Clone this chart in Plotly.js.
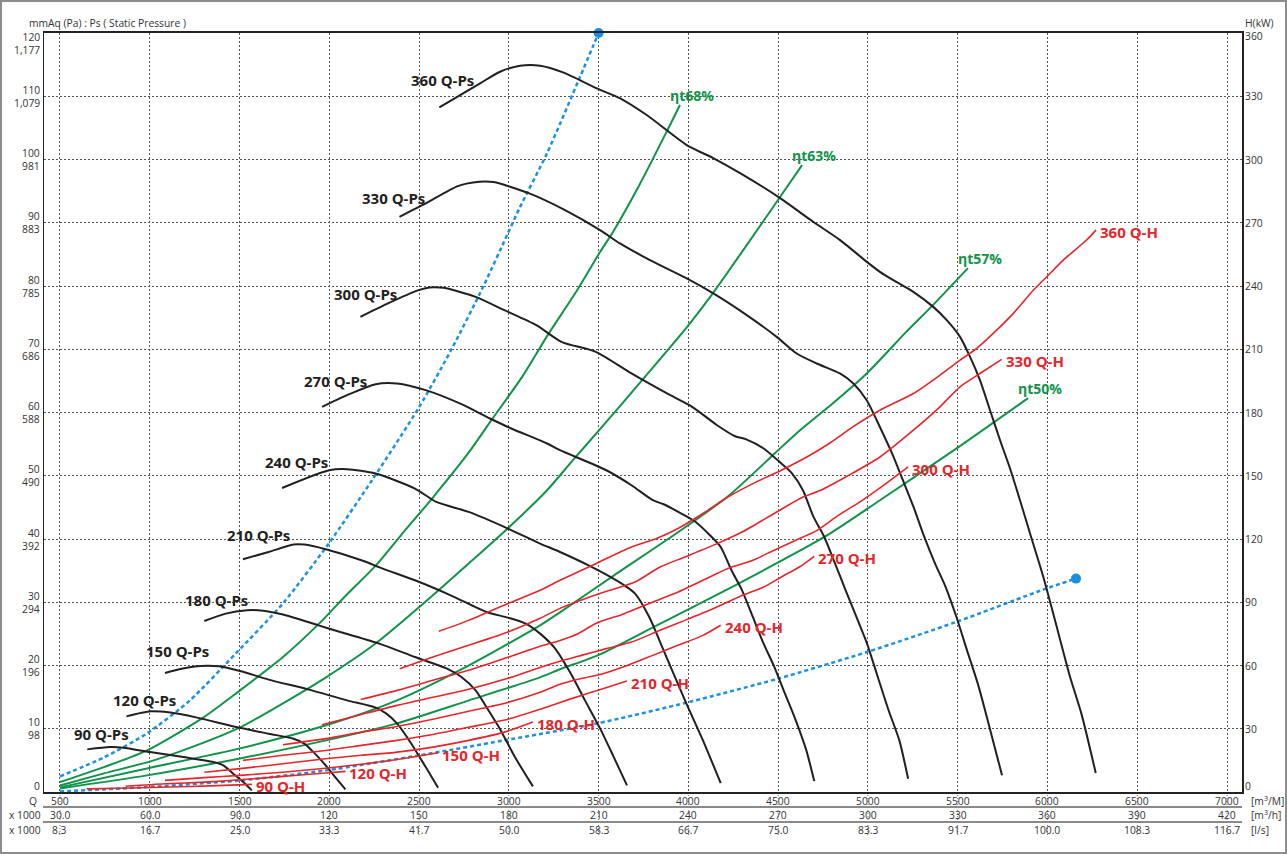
<!DOCTYPE html>
<html>
<head>
<meta charset="utf-8">
<script src="https://cdn.plot.ly/plotly-3.0.1.min.js"></script>
<style>
  html, body { margin: 0; padding: 0; background: #ffffff; }
  #chart { width: 1287px; height: 854px; }
</style>
</head>
<body>
<div id="chart"></div>
<script>
// ---------------- Axis ticks / labels ----------------
const qTicks = [500, 1000, 1500, 2000, 2500, 3000, 3500, 4000, 4500, 5000, 5500, 6000, 6500, 7000];
const m3hLabels = ['30.0', '60.0', '90.0', '120', '150', '180', '210', '240', '270', '300', '330', '360', '390', '420'];
const lsLabels = ['8.3', '16.7', '25.0', '33.3', '41.7', '50.0', '58.3', '66.7', '75.0', '83.3', '91.7', '100.0', '108.3', '116.7'];
const psTicks = [0, 10, 20, 30, 40, 50, 60, 70, 80, 90, 100, 110, 120];
const paLabels = ['0', '98', '196', '294', '392', '490', '588', '686', '785', '883', '981', '1,079', '1,177'];
const hTicks = [0, 30, 60, 90, 120, 150, 180, 210, 240, 270, 300, 330, 360];

// ---------------- Q-Ps curves (Q m3/min, Ps mmAq) ----------------
const ps90Q = [652, 778, 853, 1001, 1187, 1354, 1410, 1465, 1521, 1568];
const ps90P = [6.74, 7.10, 7.01, 6.31, 5.52, 4.73, 4.21, 2.89, 1.57, 0.25];
const ps120Q = [870, 1005, 1105, 1264, 1482, 1662, 1801, 1861, 1920, 1980, 2040, 2090];
const ps120P = [11.96, 12.75, 12.60, 11.76, 10.27, 9.22, 8.43, 7.64, 6.06, 4.21, 2.10, 0.41];
const ps150Q = [1085, 1185, 1284, 1383, 1503, 1662, 1881, 2099, 2258, 2318, 2378, 2457, 2537, 2606];
const ps150P = [18.81, 19.51, 19.92, 19.87, 19.13, 17.77, 16.23, 14.49, 13.34, 12.39, 10.81, 7.64, 3.94, 0.68];
const ps180Q = [1304, 1423, 1542, 1602, 1742, 1940, 2080, 2278, 2477, 2656, 2736, 2815, 2875, 2955, 3034, 3134];
const ps180P = [27.03, 28.20, 28.73, 28.73, 28.05, 26.35, 25.14, 23.46, 21.34, 19.51, 18.18, 16.07, 13.43, 9.74, 5.52, 0.89];
const ps210Q = [1519, 1662, 1801, 1861, 1980, 2179, 2298, 2477, 2676, 2875, 2995, 3094, 3174, 3257, 3341, 3424, 3508, 3580, 3658];
const ps210P = [36.79, 37.95, 39.12, 39.12, 38.38, 36.64, 35.32, 33.47, 31.10, 28.46, 27.57, 26.62, 25.04, 22.72, 18.92, 14.49, 10.06, 5.79, 1.04];
const ps240Q = [1737, 2000, 2099, 2258, 2477, 2596, 2776, 2995, 3174, 3285, 3444, 3563, 3643, 3703, 3782, 3862, 3981, 4081, 4180];
const ps240P = [48.07, 50.87, 51.03, 50.35, 47.98, 45.86, 44.28, 41.65, 39.28, 37.95, 35.84, 34.06, 32.68, 31.37, 27.67, 22.40, 14.49, 8.16, 1.41];
const ps270Q = [1960, 2099, 2258, 2378, 2537, 2736, 2895, 3014, 3213, 3285, 3543, 3683, 3802, 3862, 3961, 4041, 4120, 4180, 4240, 4299, 4359, 4419, 4479, 4538, 4598, 4657, 4701];
const ps270P = [60.89, 62.74, 64.48, 64.59, 63.53, 61.31, 59.05, 57.47, 55.10, 54.04, 50.87, 48.50, 46.13, 45.49, 44.02, 42.69, 40.59, 38.74, 35.05, 31.89, 27.67, 23.46, 19.76, 15.55, 11.33, 6.58, 1.72];
const ps300Q = [2173, 2318, 2497, 2557, 2637, 2815, 2975, 3153, 3293, 3484, 3683, 3881, 4021, 4160, 4260, 4319, 4419, 4518, 4578, 4638, 4697, 4757, 4817, 4876, 4936, 4995, 5055, 5115, 5175, 5224];
const ps300P = [75.12, 77.13, 79.34, 79.77, 79.71, 78.29, 76.18, 73.81, 71.17, 69.59, 66.17, 63.01, 60.89, 57.99, 56.25, 55.78, 54.31, 51.93, 50.35, 47.71, 43.49, 40.32, 36.11, 31.89, 27.67, 23.46, 18.18, 12.92, 8.16, 2.09];
const ps330Q = [2391, 2537, 2716, 2835, 2915, 3114, 3313, 3508, 3619, 3786, 3991, 4139, 4325, 4492, 4603, 4715, 4844, 4919, 4993, 5075, 5135, 5195, 5254, 5314, 5374, 5433, 5493, 5552, 5612, 5672, 5747];
const ps330P = [90.94, 93.06, 95.80, 96.48, 96.43, 94.64, 92.00, 88.84, 86.73, 84.09, 81.20, 78.82, 75.39, 71.96, 69.33, 67.75, 66.17, 64.59, 61.94, 57.20, 53.51, 49.29, 45.07, 40.32, 36.11, 32.41, 27.67, 22.40, 17.13, 10.80, 2.63];
const ps360Q = [2613, 2840, 2951, 3063, 3174, 3302, 3490, 3620, 3768, 3991, 4138, 4288, 4511, 4695, 4845, 4994, 5067, 5141, 5253, 5364, 5439, 5513, 5569, 5624, 5680, 5736, 5791, 5847, 5903, 5977, 6042, 6126, 6189, 6269];
const ps360P = [108.25, 112.04, 113.88, 114.83, 114.83, 113.78, 111.25, 109.67, 107.03, 102.28, 100.23, 97.85, 93.90, 90.15, 87.26, 83.82, 82.24, 80.93, 79.08, 76.70, 74.60, 71.96, 68.79, 65.11, 60.36, 55.62, 51.19, 46.13, 40.86, 33.99, 27.14, 18.18, 12.39, 2.99];

// ---------------- Q-H curves (Q m3/min, H kW) ----------------
const h90Q = [650, 890, 1113, 1335, 1569];
const h90H = [1.5, 1.9, 2.4, 2.9, 3.6];
const h120Q = [866, 1085, 1304, 1503, 1742, 1980, 2090];
const h120H = [2.7, 3.9, 4.7, 5.8, 7.4, 9.0, 9.8];
const h150Q = [1085, 1304, 1503, 1742, 1980, 2179, 2378, 2606];
const h150H = [5.5, 6.8, 7.9, 9.4, 11.3, 13.2, 15.4, 18.6];
const h180Q = [1304, 1503, 1742, 1980, 2179, 2378, 2577, 2776, 2975, 3134];
const h180H = [9.4, 11.1, 13.4, 15.8, 17.4, 18.9, 21.3, 24.5, 28.4, 33.2];
const h210Q = [1519, 1742, 1980, 2179, 2378, 2577, 2776, 2995, 3174, 3285, 3404, 3524, 3657];
const h210H = [15.0, 17.4, 19.7, 22.1, 24.5, 27.3, 30.7, 34.5, 39.2, 42.5, 45.8, 49.0, 52.6];
const h240Q = [1742, 1980, 2179, 2378, 2577, 2776, 2995, 3174, 3285, 3404, 3524, 3663, 3802, 3942, 4081, 4180];
const h240H = [22.4, 25.3, 28.4, 31.1, 34.5, 38.3, 42.5, 47.3, 51.1, 53.8, 56.1, 60.1, 64.8, 69.6, 74.3, 79.1];
const h270Q = [1960, 2179, 2378, 2577, 2776, 2995, 3174, 3285, 3404, 3543, 3683, 3842, 3981, 4140, 4280, 4419, 4518, 4618, 4701];
const h270H = [31.9, 36.8, 41.1, 44.9, 48.7, 53.9, 59.1, 62.0, 64.8, 68.0, 71.1, 76.7, 81.4, 87.0, 92.5, 97.2, 102.0, 106.7, 111.8];
const h300Q = [2175, 2378, 2577, 2776, 2995, 3174, 3285, 3385, 3484, 3643, 3782, 3922, 4081, 4220, 4359, 4478, 4598, 4717, 4837, 4956, 5075, 5224];
const h300H = [43.9, 48.2, 53.0, 57.7, 63.9, 69.1, 71.9, 75.1, 79.9, 84.6, 89.4, 94.1, 100.4, 106.0, 109.9, 114.7, 119.4, 124.1, 131.3, 137.6, 144.7, 154.2];
const h330Q = [2392, 2577, 2776, 2995, 3174, 3285, 3424, 3563, 3703, 3842, 3981, 4160, 4299, 4478, 4638, 4737, 4876, 5067, 5253, 5401, 5513, 5624, 5745];
const h330H = [58.5, 64.0, 69.6, 75.9, 82.4, 87.1, 91.7, 95.7, 99.6, 106.7, 111.5, 117.8, 123.3, 132.1, 139.9, 143.1, 149.4, 158.9, 171.6, 182.7, 192.2, 198.5, 205.2];
const h360Q = [2610, 2776, 2995, 3174, 3285, 3484, 3683, 3822, 3942, 4081, 4220, 4379, 4518, 4677, 4797, 4916, 5067, 5253, 5401, 5513, 5606, 5698, 5810, 5921, 5996, 6088, 6218, 6270];
const h360H = [76.2, 81.4, 89.4, 95.7, 100.4, 108.3, 116.2, 120.2, 125.0, 132.1, 139.9, 147.1, 152.6, 159.7, 166.0, 173.2, 181.1, 189.0, 197.7, 204.8, 210.4, 217.5, 227.0, 238.0, 244.4, 252.3, 261.8, 266.5];

// ---------------- Efficiency lines (Q, Ps mmAq) ----------------
const eff68Q = [500, 745, 985, 1302, 1503, 1742, 1943, 2099, 2260, 2399, 2578, 2778, 2895, 3073, 3213, 3374, 3508, 3580, 3730, 3881, 3953];
const eff68P = [1.57, 3.94, 6.58, 11.85, 16.07, 21.34, 26.62, 31.26, 35.84, 40.59, 46.60, 53.72, 58.47, 65.59, 72.08, 79.04, 85.37, 88.53, 96.12, 104.51, 108.61];
const eff63Q = [500, 745, 985, 1185, 1503, 1742, 1982, 2260, 2500, 2778, 2995, 3213, 3352, 3508, 3747, 3992, 4137, 4499, 4633];
const eff63P = [1.04, 2.94, 4.68, 6.58, 10.22, 14.02, 18.13, 23.51, 29.20, 36.16, 41.70, 47.71, 52.30, 57.36, 65.27, 73.50, 78.88, 93.59, 99.12];
const eff57Q = [500, 985, 1503, 1982, 2377, 2778, 3174, 3285, 3586, 3942, 4221, 4488, 4622, 4805, 4995, 5212, 5362, 5557];
const eff57P = [0.73, 3.73, 6.90, 10.54, 14.49, 20.03, 26.35, 28.41, 34.26, 41.06, 46.76, 53.72, 57.20, 61.47, 66.22, 72.70, 76.98, 82.83];
const eff50Q = [500, 985, 1503, 1982, 2377, 2778, 3174, 3285, 3508, 3803, 4282, 4755, 5067, 5496, 5892];
const eff50P = [0.57, 2.63, 5.31, 8.16, 10.85, 14.49, 18.13, 19.40, 21.77, 26.04, 33.00, 40.28, 46.13, 54.36, 62.27];

// ---------------- Blue dotted guide lines (Q, Ps mmAq) ----------------
const blue1Q = [500, 745, 985, 1224, 1480, 1742, 1998, 2238, 2500, 2678, 2856, 2995, 3062, 3213, 3396, 3500];
const blue1P = [2.47, 5.47, 9.27, 14.49, 21.93, 29.83, 39.33, 49.29, 60.84, 69.85, 79.82, 88.36, 92.47, 101.01, 113.03, 120];
const blue2Q = [500, 985, 1503, 1982, 2500, 2973, 3485, 4003, 4499, 4995, 5491, 5992, 6159];
const blue2P = [0.09, 0.78, 1.83, 3.42, 5.79, 8.16, 10.80, 14.22, 17.92, 22.13, 26.88, 32.16, 33.74];

// ---------------- Series labels ----------------
const speeds = [90, 120, 150, 180, 210, 240, 270, 300, 330, 360];
const effNames = ['ηt68%', 'ηt63%', 'ηt57%', 'ηt50%'];

// ================= Drawing =================
const W = 1287, H = 854;
const M = { l: 44, r: 45, t: 33, b: 62 };
const PW = W - M.l - M.r, PH = H - M.t - M.b;
const px2x = (px) => (px - M.l) / PW;
const py2y = (py) => (H - M.b - py) / PH;

const FONT = '"Open Sans", "Noto Sans", sans-serif';
const BLACK = '#231f20', RED = '#e3262b', GREEN = '#12924a', BLUE = '#1c91dc';

const psQ = [ps90Q, ps120Q, ps150Q, ps180Q, ps210Q, ps240Q, ps270Q, ps300Q, ps330Q, ps360Q];
const psP = [ps90P, ps120P, ps150P, ps180P, ps210P, ps240P, ps270P, ps300P, ps330P, ps360P];
const hQ = [h90Q, h120Q, h150Q, h180Q, h210Q, h240Q, h270Q, h300Q, h330Q, h360Q];
const hH = [h90H, h120H, h150H, h180H, h210H, h240H, h270H, h300H, h330H, h360H];
const effQ = [eff68Q, eff63Q, eff57Q, eff50Q];
const effP = [eff68P, eff63P, eff57P, eff50P];

const traces = [];
function line(x, y, color, width, dash, yaxis) {
  return {
    type: 'scatter', mode: 'lines', x: x, y: y, yaxis: yaxis || 'y',
    line: { color: color, width: width, dash: dash || 'solid', shape: 'spline', smoothing: 0.7 },
    hoverinfo: 'skip', showlegend: false
  };
}
for (let i = 0; i < effQ.length; i++) traces.push(line(effQ[i], effP[i], GREEN, 2));
for (let i = 0; i < hQ.length; i++) traces.push(line(hQ[i], hH[i], RED, 1.6, 'solid', 'y2'));
traces.push(line(blue1Q, blue1P, BLUE, 2.5, '4px,3px'));
traces.push(line(blue2Q, blue2P, BLUE, 2.5, '4px,3px'));
for (let i = 0; i < psQ.length; i++) traces.push(line(psQ[i], psP[i], BLACK, 2));
traces.push({
  type: 'scatter', mode: 'markers',
  x: [blue1Q[blue1Q.length - 1], blue2Q[blue2Q.length - 1]],
  y: [blue1P[blue1P.length - 1], blue2P[blue2P.length - 1]],
  marker: { size: 10, color: '#1a8fdd' }, cliponaxis: false, hoverinfo: 'skip', showlegend: false
});

const ann = [];
const tickFont = { family: FONT, size: 10.3, color: '#333' };
function txt(o) { return Object.assign({ showarrow: false, font: tickFont, borderpad: 0 }, o); }

// Left axis labels (mmAq over Pa, one stacked label per tick)
psTicks.forEach((v, i) => {
  const xr = px2x(41);
  if (v === 0) {
    ann.push(txt({ xref: 'paper', x: xr, xanchor: 'right', yref: 'y', y: v, yanchor: 'middle', yshift: 6, text: String(v) }));
  } else {
    ann.push(txt({ xref: 'paper', x: xr, xanchor: 'right', align: 'right', yref: 'y', y: v, yanchor: 'middle',
      yshift: v === 120 ? -10 : 0, text: String(v) + '<br>' + paLabels[i] }));
  }
});
// Right axis labels
hTicks.forEach((v) => {
  const ys = v === 0 ? 6 : (v === 360 ? -3 : 0);
  ann.push(txt({ xref: 'paper', x: px2x(1244), xanchor: 'left', yref: 'y2', y: v, yanchor: 'middle', yshift: ys, text: String(v) }));
});
// Axis titles
ann.push(txt({ xref: 'paper', x: px2x(28), xanchor: 'left', yref: 'paper', y: py2y(22.5), yanchor: 'middle', text: 'mmAq (Pa) : Ps ( Static Pressure )' }));
ann.push(txt({ xref: 'paper', x: px2x(1244), xanchor: 'left', yref: 'paper', y: py2y(22.5), yanchor: 'middle', text: 'H(kW)' }));

// Bottom rows
const rowY = [800.5, 814.5, 829.5];
qTicks.forEach((q, i) => {
  ann.push(txt({ xref: 'x', x: q, xanchor: 'center', yref: 'paper', y: py2y(rowY[0]), yanchor: 'middle', text: String(q) }));
  ann.push(txt({ xref: 'x', x: q, xanchor: 'center', yref: 'paper', y: py2y(rowY[1]), yanchor: 'middle', text: m3hLabels[i] }));
  ann.push(txt({ xref: 'x', x: q, xanchor: 'center', yref: 'paper', y: py2y(rowY[2]), yanchor: 'middle', text: lsLabels[i] }));
});
ann.push(txt({ xref: 'paper', x: px2x(37.5), xanchor: 'right', yref: 'paper', y: py2y(rowY[0]), yanchor: 'middle', text: 'Q' }));
ann.push(txt({ xref: 'paper', x: px2x(41.5), xanchor: 'right', yref: 'paper', y: py2y(rowY[1]), yanchor: 'middle', text: 'x 1000' }));
ann.push(txt({ xref: 'paper', x: px2x(41.5), xanchor: 'right', yref: 'paper', y: py2y(rowY[2]), yanchor: 'middle', text: 'x 1000' }));
ann.push(txt({ xref: 'paper', x: px2x(1250), xanchor: 'left', yref: 'paper', y: py2y(rowY[0]), yanchor: 'middle', text: '[m<sup>3</sup>/M]' }));
ann.push(txt({ xref: 'paper', x: px2x(1250), xanchor: 'left', yref: 'paper', y: py2y(rowY[1]), yanchor: 'middle', text: '[m<sup>3</sup>/h]' }));
ann.push(txt({ xref: 'paper', x: px2x(1250), xanchor: 'left', yref: 'paper', y: py2y(rowY[2]), yanchor: 'middle', text: '[l/s]' }));

// Q-Ps labels
const psLabelAt = [[734, 9.1], [973, 14.5], [1157, 22.25], [1374, 30.3], [1603, 40.6], [1820, 52.1], [2032, 65.0], [2204, 78.7], [2360, 93.9], [2628, 112.6]];
speeds.forEach((s, i) => {
  ann.push({ xref: 'x', yref: 'y', x: psLabelAt[i][0], y: psLabelAt[i][1], xanchor: 'center', yanchor: 'middle',
    text: '<b>' + s + ' Q-Ps</b>', showarrow: false, font: { family: FONT, size: 15, color: BLACK } });
});
// Q-H labels at curve ends
speeds.forEach((s, i) => {
  const q = hQ[i], h = hH[i];
  ann.push({ xref: 'x', yref: 'y2', x: q[q.length - 1], y: h[h.length - 1], xanchor: 'left', yanchor: 'middle', xshift: 3, yshift: -2,
    text: '<b>' + s + ' Q-H</b>', showarrow: false, font: { family: FONT, size: 15, color: RED }, borderpad: 0 });
});
// Efficiency labels at line ends
effNames.forEach((n, i) => {
  const q = effQ[i], p = effP[i];
  ann.push({ xref: 'x', yref: 'y', x: q[q.length - 1], y: p[p.length - 1], xanchor: 'left', yanchor: 'middle', xshift: -11, yshift: 10,
    text: '<b>' + n + '</b>', showarrow: false, font: { family: FONT, size: 14, color: GREEN }, borderpad: 0 });
});

// Shapes
const shapes = [];
[807, 822].forEach((py) => {
  shapes.push({ type: 'line', xref: 'paper', yref: 'paper', x0: px2x(43), x1: px2x(1242), y0: py2y(py), y1: py2y(py),
    line: { color: '#8a8a8a', width: 2 } });
});
qTicks.forEach((q) => {
  shapes.push({ type: 'line', xref: 'x', yref: 'paper', x0: q, x1: q, y0: py2y(792), y1: py2y(836),
    line: { color: '#777', width: 1, dash: '1px,2px' }, layer: 'below' });
});
shapes.push({ type: 'rect', xref: 'paper', yref: 'paper', x0: px2x(1), x1: px2x(1286), y0: py2y(1), y1: py2y(853),
  line: { color: '#8c8c8c', width: 2 }, fillcolor: 'rgba(0,0,0,0)' });

const layout = {
  width: W, height: H, margin: M,
  paper_bgcolor: '#ffffff', plot_bgcolor: '#ffffff',
  font: { family: FONT, size: 10, color: '#333' },
  showlegend: false,
  xaxis: {
    range: [411, 7083.5], tickvals: qTicks, showticklabels: false, ticks: '',
    showgrid: true, gridcolor: '#555', gridwidth: 1, griddash: '2px,2px',
    showline: true, linecolor: '#222', linewidth: 2, mirror: true, zeroline: false
  },
  yaxis: {
    range: [0, 120], tickvals: psTicks, showticklabels: false, ticks: '',
    showgrid: true, gridcolor: '#555', gridwidth: 1, griddash: '2px,2px',
    showline: true, linecolor: '#222', linewidth: 1.5, mirror: true, zeroline: false
  },
  yaxis2: {
    range: [0, 360], overlaying: 'y', side: 'right', showgrid: false, showticklabels: false,
    showline: false, zeroline: false, ticks: ''
  },
  annotations: ann,
  shapes: shapes
};

Plotly.newPlot('chart', traces, layout, { staticPlot: true, displayModeBar: false });
</script>
</body>
</html>
